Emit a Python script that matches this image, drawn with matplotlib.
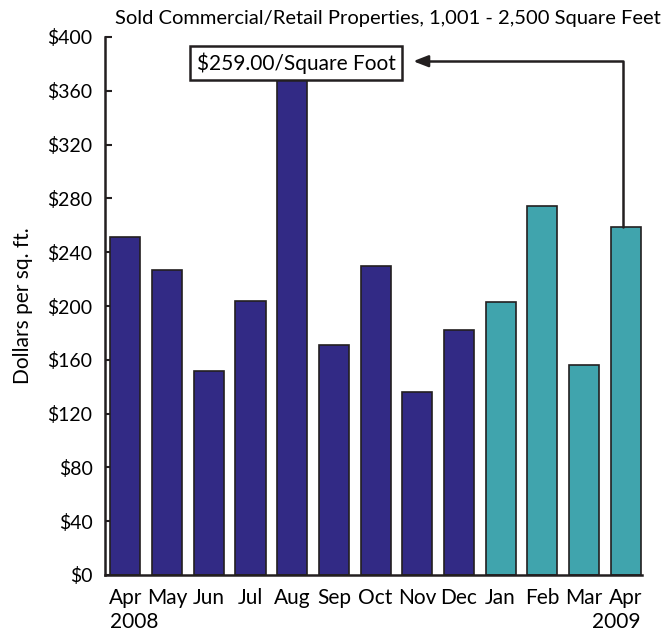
import matplotlib.pyplot as plt

plt.rcParams['font.family'] = ['Lato', 'DejaVu Sans']

months = ["Apr", "May", "Jun", "Jul", "Aug", "Sep", "Oct", "Nov", "Dec",
          "Jan", "Feb", "Mar", "Apr"]
prices = [251, 227, 152, 204, 370, 171, 230, 136, 182, 203, 274, 156, 259]
years = ["2008", "2009"]
n_2008 = 9  # Apr-Dec 2008 in navy, 2009 in teal

navy = "#322a85"
teal = "#40a4ad"
ink = "#231f20"

fig = plt.figure(figsize=(6.63, 6.34), dpi=100)
ax = fig.add_axes([105 / 663, 59 / 634, 537 / 663, 538 / 634])

colors = [navy if i < n_2008 else teal for i in range(len(prices))]
x = list(range(len(prices)))
ax.bar(x, prices, width=0.72, color=colors, edgecolor=ink, linewidth=1.2, zorder=2)

ax.set_xlim(-0.49, 12.39)
ax.set_ylim(0, 400)
ax.set_yticks(range(0, 401, 40))
ax.set_yticklabels([f"\\${v}" for v in range(0, 401, 40)], fontsize=14)
ax.set_xticks(x)
ax.set_xticklabels(months, fontsize=15)
ax.tick_params(axis='y', direction='in', length=5, width=1.5, color=ink, pad=9)
ax.tick_params(axis='x', length=0, pad=9)

for s in ['top', 'right']:
    ax.spines[s].set_visible(False)
for s in ['left', 'bottom']:
    ax.spines[s].set_linewidth(1.8)
    ax.spines[s].set_color(ink)

ax.set_ylabel("Dollars per sq. ft.", fontsize=15, labelpad=10)

# year labels under first and last month
ax.text(-0.38, -0.069, years[0], transform=ax.get_xaxis_transform(),
        ha='left', va='top', fontsize=15)
ax.text(12.36, -0.069, years[1], transform=ax.get_xaxis_transform(),
        ha='right', va='top', fontsize=15)

fig.text(0.585, 0.971, "Sold Commercial/Retail Properties, 1,001 - 2,500 Square Feet",
         ha='center', va='center', fontsize=14.5)

# callout box with arrow from the last bar
last = len(prices) - 1
ax.text(4.09, 380.5, f"\\${prices[last]:.2f}/Square Foot", ha='center', va='center',
        fontsize=15, zorder=5,
        bbox=dict(boxstyle='square,pad=0.3', facecolor='white', edgecolor=ink, linewidth=1.8))
ax.annotate("", xy=(6.9, 382), xytext=(last - 0.07, prices[last]),
            arrowprops=dict(arrowstyle='-|>,head_length=0.9,head_width=0.35', color=ink, lw=1.8,
                            shrinkA=0, shrinkB=0,
                            connectionstyle='angle,angleA=90,angleB=0,rad=0'),
            zorder=4)

fig.savefig("out.png", dpi=100)
